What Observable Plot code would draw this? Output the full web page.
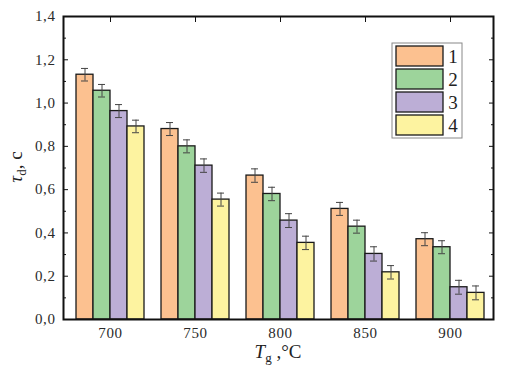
<!DOCTYPE html>
<html><head><meta charset="utf-8">
<script src="https://cdn.jsdelivr.net/npm/d3@7"></script>
<script src="https://cdn.jsdelivr.net/npm/@observablehq/plot@0.6"></script>
<style>
body{margin:0;background:#fff}
#chart svg, #chart svg text { font-family: "Liberation Serif", "Times New Roman", serif !important; }
#chart svg g[aria-label$="tick label"] text { letter-spacing: 0.6px; }
</style>
</head><body><div id="chart"></div>
<script>
// ---- data ----
const temps = ["700", "750", "800", "850", "900"];
const seriesNames = ["1", "2", "3", "4"];
const series1 = [1.131, 0.880, 0.665, 0.511, 0.371];
const series2 = [1.057, 0.800, 0.580, 0.429, 0.334];
const series3 = [0.963, 0.711, 0.457, 0.303, 0.149];
const series4 = [0.892, 0.554, 0.354, 0.218, 0.123];
const err1 = [0.029, 0.030, 0.031, 0.030, 0.030];
const err2 = [0.029, 0.030, 0.031, 0.030, 0.030];
const err3 = [0.030, 0.031, 0.032, 0.033, 0.032];
const err4 = [0.029, 0.030, 0.031, 0.031, 0.032];
const yTicks = [0, 0.2, 0.4, 0.6, 0.8, 1.0, 1.2, 1.4];
const yMinorTicks = [0.1, 0.3, 0.5, 0.7, 0.9, 1.1, 1.3];
const colors = ["#fcc190", "#9dd49b", "#bcaed6", "#fdf3a0"];

const allValues = [series1, series2, series3, series4];
const allErrors = [err1, err2, err3, err4];
const rows = [];
allValues.forEach((vals, i) => vals.forEach((v, j) =>
  rows.push({T: temps[j], s: seriesNames[i], i, v, e: allErrors[i][j]})));

const font = "Liberation Serif, Times New Roman, serif";
const bw = 17; // bar width in px within a 68px group band
const fmt = d => d.toFixed(1).replace(".", ",");
const blank = () => "";

const marks = [];
// inward ticks
const tk = {tickFormat: blank, label: null, stroke: "#111"};
marks.push(Plot.axisY(yTicks, {anchor: "left", tickSize: 5, dx: 5, ...tk}));
marks.push(Plot.axisY(yMinorTicks, {anchor: "left", tickSize: 3, dx: 3, ...tk}));
marks.push(Plot.axisY(yTicks, {anchor: "right", tickSize: 5, dx: -5, ...tk}));
marks.push(Plot.axisY(yMinorTicks, {anchor: "right", tickSize: 3, dx: -3, ...tk}));
marks.push(Plot.axisY(yTicks, {anchor: "left", tickSize: 0, tickPadding: 8, tickFormat: fmt, fontSize: 15,
  label: null, fill: "#2a2a2a", fontFamily: font}));
marks.push(Plot.axisX({anchor: "top", tickSize: 5, dy: 5, ...tk}));
marks.push(Plot.axisX({anchor: "bottom", tickSize: 5, dy: -5, ...tk}));
marks.push(Plot.axisX({anchor: "bottom", tickSize: 0, tickPadding: 8, fontSize: 15, label: null,
  fill: "#2a2a2a", fontFamily: font}));

for (let i = 0; i < 4; i++) {
  const d = rows.filter(r => r.i === i);
  marks.push(Plot.barY(d, {x: "T", y: "v", fill: "s", stroke: "#1a1a1a", strokeWidth: 1.3,
    insetLeft: bw * i, insetRight: bw * (3 - i)}));
  marks.push(Plot.ruleX(d, {x: "T", y1: r => r.v - r.e, y2: r => r.v + r.e, dx: (i - 1.5) * bw,
    stroke: "#444", strokeWidth: 1}));
  marks.push(Plot.tickY(d, {x: "T", y: r => r.v + r.e, insetLeft: bw * i + 5, insetRight: bw * (3 - i) + 5,
    stroke: "#444", strokeWidth: 1}));
  marks.push(Plot.tickY(d, {x: "T", y: r => r.v - r.e, insetLeft: bw * i + 5, insetRight: bw * (3 - i) + 5,
    stroke: "#444", strokeWidth: 1}));
}
marks.push(Plot.frame({stroke: "#111", strokeWidth: 2}));

const plot = Plot.plot({
  width: 505, height: 379,
  marginLeft: 63, marginRight: 12, marginTop: 16, marginBottom: 60,
  style: {fontFamily: font, fontSize: "14px", background: "#fff", color: "#222"},
  x: {type: "band", domain: temps, range: [76, 484], paddingInner: 0.2, paddingOuter: 0},
  y: {domain: [0, 1.4]},
  color: {domain: seriesNames, range: colors},
  marks
});
document.getElementById("chart").appendChild(plot);

const svg = d3.select(plot);
// y axis label: τ_d, c
const yl = svg.append("text")
  .attr("transform", "translate(22,167) rotate(-90)")
  .attr("text-anchor", "middle")
  .attr("font-family", font).attr("font-size", 19).attr("fill", "#222");
yl.append("tspan").attr("font-style", "italic").text("τ");
yl.append("tspan").attr("font-size", 13).attr("dy", 4).text("d");
yl.append("tspan").attr("dy", -4).text(", c");
// x axis label: T_g ,°C
const xl = svg.append("text")
  .attr("x", 278).attr("y", 358)
  .attr("text-anchor", "middle")
  .attr("font-family", font).attr("font-size", 19).attr("fill", "#222");
xl.append("tspan").attr("font-style", "italic").text("T");
xl.append("tspan").attr("font-size", 13).attr("dy", 4).text("g");
xl.append("tspan").attr("dy", -4).text(" ,°C");

// legend box
const color = plot.scale("color");
const lg = svg.append("g");
lg.append("rect").attr("x", 392).attr("y", 43).attr("width", 70).attr("height", 95)
  .attr("fill", "#fff").attr("stroke", "#888").attr("stroke-width", 1);
seriesNames.forEach((s, k) => {
  lg.append("rect").attr("x", 396).attr("y", 46 + k * 23).attr("width", 47).attr("height", 20)
    .attr("fill", color.apply(s)).attr("stroke", "#1a1a1a").attr("stroke-width", 1.3);
  lg.append("text").attr("x", 453).attr("y", 56 + k * 23).attr("dy", "0.35em")
    .attr("text-anchor", "middle").attr("font-family", font).attr("font-size", 19)
    .attr("fill", "#222").text(s);
});
</script></body></html>
